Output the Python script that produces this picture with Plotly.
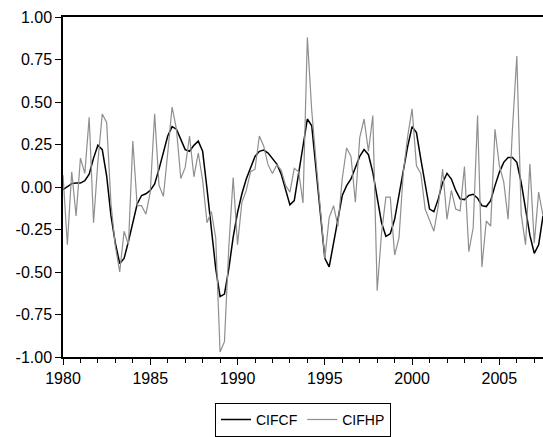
import plotly.graph_objects as go

start_year = 1980
n_obs = 111
dates = [start_year + k / 4 for k in range(n_obs)]

cifcf = [
    -0.016, 0.0, 0.02, 0.023,          # 1980
    0.023, 0.037, 0.076, 0.17,         # 1981
    0.246, 0.22, 0.066, -0.17,         # 1982
    -0.33, -0.45, -0.42, -0.32,        # 1983
    -0.21, -0.10, -0.05, -0.04,        # 1984
    -0.02, 0.018, 0.105, 0.21,         # 1985
    0.30, 0.355, 0.34, 0.28,           # 1986
    0.22, 0.21, 0.245, 0.27,           # 1987
    0.21, -0.01, -0.25, -0.48,         # 1988
    -0.645, -0.63, -0.48, -0.295,      # 1989
    -0.15, -0.04, 0.047, 0.115,        # 1990
    0.18, 0.21, 0.217, 0.20,           # 1991
    0.17, 0.135, 0.076, -0.01,         # 1992
    -0.105, -0.08, 0.08, 0.25,         # 1993
    0.40, 0.36, 0.10, -0.19,           # 1994
    -0.42, -0.47, -0.34, -0.19,        # 1995
    -0.05, 0.008, 0.047, 0.115,        # 1996
    0.18, 0.22, 0.19, 0.086,           # 1997
    -0.07, -0.21, -0.29, -0.275,       # 1998
    -0.19, -0.05, 0.105, 0.24,         # 1999
    0.355, 0.32, 0.164, 0.008,         # 2000
    -0.13, -0.145, -0.07, 0.027,       # 2001
    0.08, 0.047, -0.02, -0.07,         # 2002
    -0.074, -0.05, -0.043, -0.066,     # 2003
    -0.11, -0.115, -0.08, 0.008,       # 2004
    0.086, 0.145, 0.174, 0.174,        # 2005
    0.145, 0.027, -0.13, -0.285,       # 2006
    -0.39, -0.34, -0.17,               # 2007
]

cifhp = [
    0.07, -0.34, 0.09, -0.17,          # 1980
    0.17, 0.08, 0.41, -0.21,           # 1981
    0.15, 0.43, 0.38, -0.10,           # 1982
    -0.35, -0.50, -0.26, -0.34,        # 1983
    0.27, -0.11, -0.11, -0.16,         # 1984
    -0.03, 0.43, 0.01, -0.055,         # 1985
    0.20, 0.47, 0.34, 0.05,            # 1986
    0.115, 0.30, 0.06, 0.20,           # 1987
    0.04, -0.21, -0.145, -0.30,        # 1988
    -0.97, -0.91, -0.35, 0.055,        # 1989
    -0.34, -0.09, -0.02, 0.09,         # 1990
    0.105, 0.30, 0.24, 0.13,           # 1991
    0.08, 0.13, 0.10, 0.01,            # 1992
    -0.03, 0.11, 0.09, -0.094,         # 1993
    0.88, 0.45, 0.15, -0.15,           # 1994
    -0.42, -0.18, -0.11, -0.23,        # 1995
    0.05, 0.23, 0.18, -0.09,           # 1996
    0.29, 0.40, 0.21, 0.42,            # 1997
    -0.61, -0.27, -0.06, -0.06,        # 1998
    -0.40, -0.30, 0.09, 0.30,          # 1999
    0.46, 0.125, 0.08, -0.13,          # 2000
    -0.19, -0.26, -0.11, 0.105,        # 2001
    -0.19, -0.02, -0.13, -0.14,        # 2002
    0.12, -0.38, -0.24, 0.42,          # 2003
    -0.47, -0.20, -0.23, 0.34,         # 2004
    0.125, 0.03, -0.19, 0.34,          # 2005
    0.77, -0.16, -0.34, 0.135,         # 2006
    -0.33, -0.03, -0.17,               # 2007
]

y_ticks = [-1.0, -0.75, -0.5, -0.25, 0.0, 0.25, 0.5, 0.75, 1.0]
x_ticks = [1980, 1985, 1990, 1995, 2000, 2005]

font = dict(family="Liberation Sans, Arial, sans-serif", size=16, color="black")
legend_font = dict(family="Liberation Sans, Arial, sans-serif", size=14, color="black")

fig = go.Figure()
fig.add_trace(go.Scatter(x=dates, y=cifcf, mode="lines", name="CIFCF",
                         line=dict(color="black", width=1.5)))
fig.add_trace(go.Scatter(x=dates, y=cifhp, mode="lines", name="CIFHP",
                         line=dict(color="#8f8f8f", width=1.2)))

fig.update_layout(
    width=543, height=437,
    margin=dict(l=63, r=0, t=17, b=80, autoexpand=False),
    paper_bgcolor="white", plot_bgcolor="white",
    font=font,
    showlegend=True,
    legend=dict(orientation="h", x=0.5, xanchor="center", y=-0.135, yanchor="top",
                bordercolor="black", borderwidth=1, font=legend_font,
                bgcolor="white", itemwidth=30, tracegroupgap=0),
)
fig.update_xaxes(
    range=[1980, 2007.5], tickvals=x_ticks, ticktext=[str(v) for v in x_ticks],
    showgrid=False, zeroline=False, showline=True, linecolor="black", linewidth=1.5,
    mirror=True, ticks="outside", ticklen=6, tickcolor="black", automargin=False,
    minor=dict(dtick=1, tick0=1980, ticks="outside", ticklen=4, tickcolor="black", showgrid=False),
)
fig.update_yaxes(
    range=[-1.0, 1.0], tickvals=y_ticks, ticktext=[f"{v:.2f}" for v in y_ticks],
    showgrid=False, zeroline=False, showline=True, linecolor="black", linewidth=1.5,
    mirror=False, ticks="outside", ticklen=6, tickcolor="black", automargin=False,
)

fig.write_html("out.html")
